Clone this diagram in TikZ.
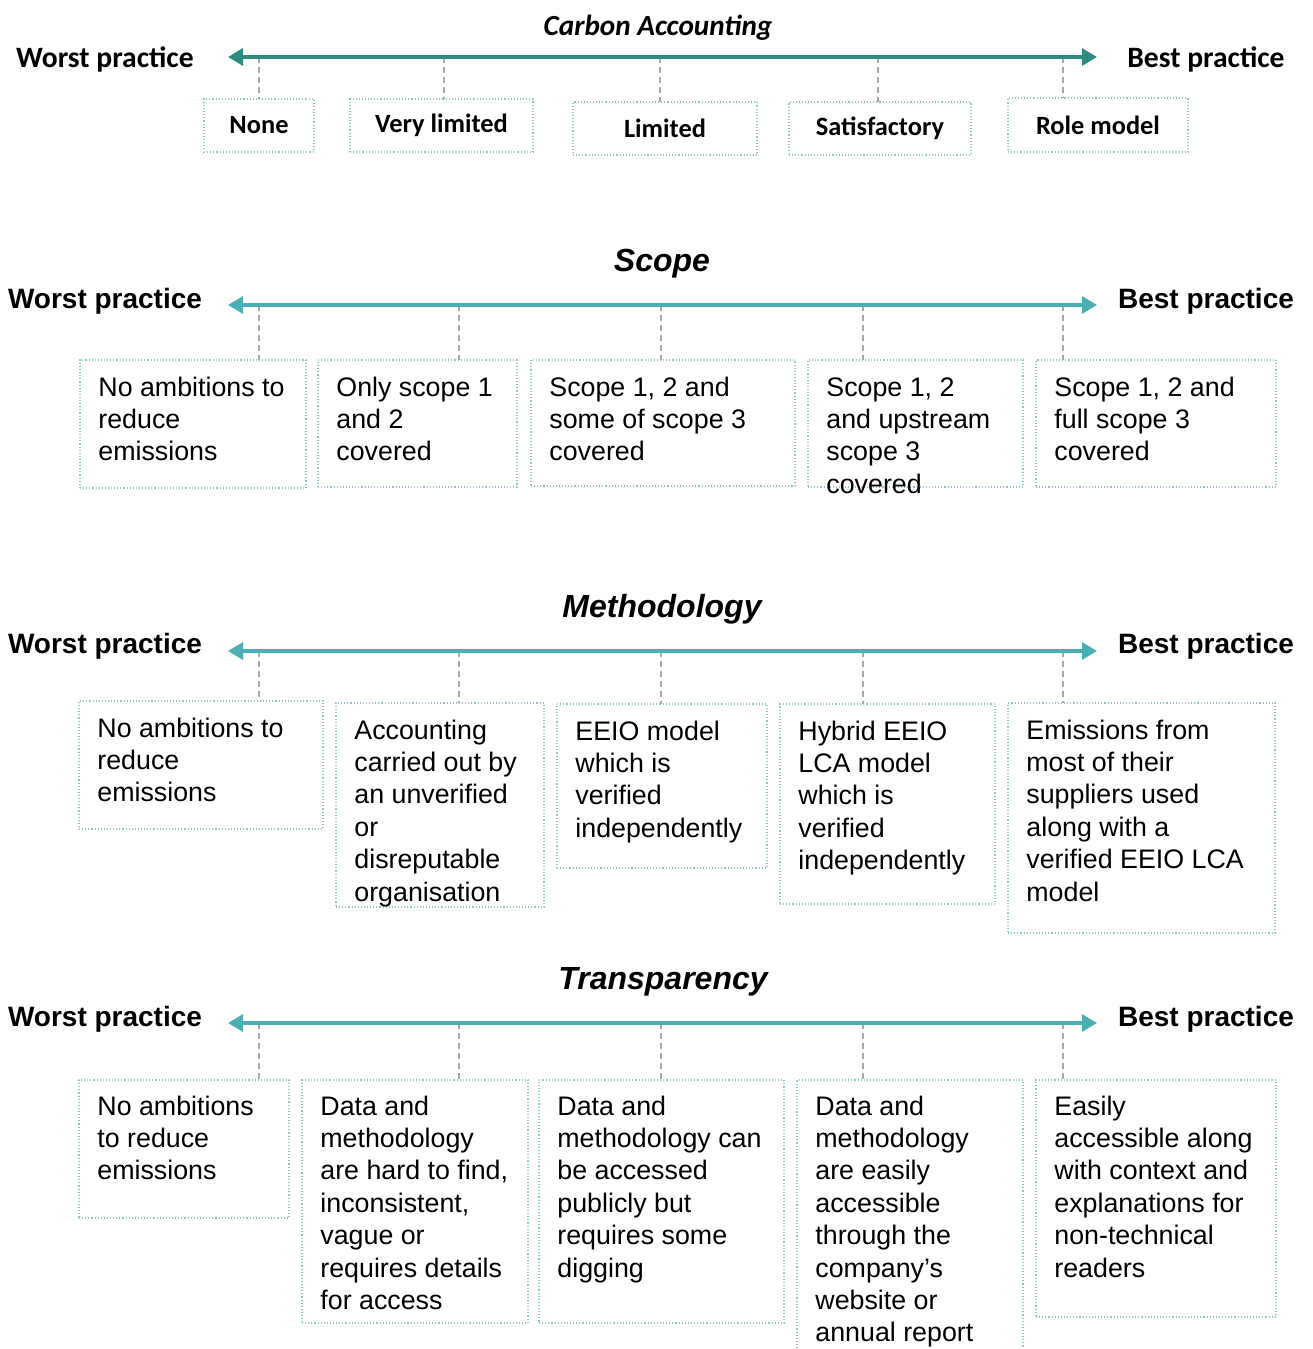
\documentclass[tikz,border=0pt]{standalone}
\usepackage{fontspec}
\setmainfont{Liberation Sans}
\newfontfamily\calibrifont{Carlito}
\usetikzlibrary{arrows.meta}
\definecolor{tealdark}{HTML}{2E8B80}
\definecolor{teallight}{HTML}{4AAFB4}
\definecolor{boxline}{HTML}{8CC6C6}
\definecolor{tickgray}{HTML}{A8A8A8}
\tikzset{
  scalebox/.style={draw=boxline,densely dotted,line width=0.55pt,inner sep=0pt,outer sep=0pt,anchor=north west},
  scaletext/.style={inner sep=0pt,anchor=north west,align=left,font=\fontsize{13.4}{16.2}\selectfont},
  levelbox/.style={scalebox,font=\calibrifont\bfseries\fontsize{13.2}{15}\selectfont},
  endcal/.style={font=\calibrifont\bfseries\fontsize{14.8}{16}\selectfont},
  endtext/.style={font=\bfseries\fontsize{14}{16}\selectfont},
  headcal/.style={font=\calibrifont\bfseries\itshape\fontsize{14.6}{16}\selectfont},
  heading/.style={font=\bfseries\itshape\fontsize{16}{18}\selectfont},
  tickline/.style={draw=tickgray,densely dashed,line width=0.55pt},
  scalearrow/.style={line width=1.6pt,{Triangle[length=7.5pt,width=8.5pt]}-{Triangle[length=7.5pt,width=8.5pt]}}
}
\begin{document}
\begin{tikzpicture}[x=0.5pt,y=-0.5pt]
\useasboundingbox (0,0) rectangle (1312,1349);
\pgfmathsetmacro{\xleft}{228}
\pgfmathsetmacro{\xright}{1097}

% Carbon Accounting
\node[headcal] (s1title) at (658,28) {Carbon Accounting};
\node[endcal] (s1worst) at (105,59) {Worst practice};
\node[endcal] (s1best) at (1206,59) {Best practice};
\coordinate (s1l) at (\xleft,57);
\coordinate (s1r) at (\xright,57);
\foreach \i/\xa/\ya/\xb/\yb/\txt/\tx in {1/204/99/314/152/None/259,2/350/99/533/152/Very limited/444,
  3/573/102/757/155/Limited/660,4/789/102/971/155/Satisfactory/878,5/1008/98/1188/152/Role model/1063} {
  \node[levelbox,minimum width=(\xb-\xa)*0.5pt,minimum height=(\yb-\ya)*0.5pt] (s1box\i) at (\xa,\ya) {\txt};
  \coordinate (s1tick\i) at (\tx,57);
  \draw[tickline] (s1tick\i) -- (s1tick\i |- s1box\i.north);
}
\draw[scalearrow,tealdark] (s1l) -- (s1r);

% Scope
\node[heading] (s2title) at (662,264) {Scope};
\node[endtext] (s2worst) at (105,301) {Worst practice};
\node[endtext] (s2best) at (1206,301) {Best practice};
\coordinate (s2l) at (\xleft,305);
\coordinate (s2r) at (\xright,305);
\foreach \i/\xa/\ya/\xb/\yb/\txt/\tx in {1/80/360/306/488/{No ambitions to\\reduce\\emissions}/259,
  2/318/360/517/487/{Only scope 1\\and 2\\covered}/459,
  3/531/360/795/486/{Scope 1, 2 and\\some of scope 3\\covered}/661,
  4/808/360/1023/487/{Scope 1, 2\\and upstream\\scope 3\\covered}/863,
  5/1036/360/1276/487/{Scope 1, 2 and\\full scope 3\\covered}/1063} {
  \node[scalebox,minimum width=(\xb-\xa)*0.5pt,minimum height=(\yb-\ya)*0.5pt] (s2box\i) at (\xa,\ya) {};
  \node[scaletext] (s2text\i) at ([shift={(18,13)}]s2box\i.north west) {\strut\txt};
  \coordinate (s2tick\i) at (\tx,305);
  \draw[tickline] (s2tick\i) -- (s2tick\i |- s2box\i.north);
}
\draw[scalearrow,teallight] (s2l) -- (s2r);

% Methodology
\node[heading] (s3title) at (662,609) {Methodology};
\node[endtext] (s3worst) at (105,646) {Worst practice};
\node[endtext] (s3best) at (1206,646) {Best practice};
\coordinate (s3l) at (\xleft,651);
\coordinate (s3r) at (\xright,651);
\foreach \i/\xa/\ya/\xb/\yb/\txt/\tx in {1/79/701/323/829/{No ambitions to\\reduce\\emissions}/259,
  2/336/703/544/907/{Accounting\\carried out by\\an unverified\\or\\disreputable\\organisation}/459,
  3/557/704/767/868/{EEIO model\\which is\\verified\\independently}/661,
  4/780/704/995/904/{Hybrid EEIO\\LCA model\\which is\\verified\\independently}/863,
  5/1008/703/1275/933/{Emissions from\\most of their\\suppliers used\\along with a\\verified EEIO LCA\\model}/1063} {
  \node[scalebox,minimum width=(\xb-\xa)*0.5pt,minimum height=(\yb-\ya)*0.5pt] (s3box\i) at (\xa,\ya) {};
  \node[scaletext] (s3text\i) at ([shift={(18,13)}]s3box\i.north west) {\strut\txt};
  \coordinate (s3tick\i) at (\tx,651);
  \draw[tickline] (s3tick\i) -- (s3tick\i |- s3box\i.north);
}
\draw[scalearrow,teallight] (s3l) -- (s3r);

% Transparency
\node[heading] (s4title) at (663,982) {Transparency};
\node[endtext] (s4worst) at (105,1019) {Worst practice};
\node[endtext] (s4best) at (1206,1019) {Best practice};
\coordinate (s4l) at (\xleft,1023);
\coordinate (s4r) at (\xright,1023);
\foreach \i/\xa/\ya/\xb/\yb/\txt/\tx in {1/79/1080/289/1218/{No ambitions\\to reduce\\emissions}/259,
  2/302/1080/528/1323/{Data and\\methodology\\are hard to find,\\inconsistent,\\vague or\\requires details\\for access}/459,
  3/539/1080/784/1323/{Data and\\methodology can\\be accessed\\publicly but\\requires some\\digging}/661,
  4/797/1080/1023/1353/{Data and\\methodology\\are easily\\accessible\\through the\\company’s\\website or\\annual report}/863,
  5/1036/1080/1276/1317/{Easily\\accessible along\\with context and\\explanations for\\non-technical\\readers}/1063} {
  \node[scalebox,minimum width=(\xb-\xa)*0.5pt,minimum height=(\yb-\ya)*0.5pt] (s4box\i) at (\xa,\ya) {};
  \node[scaletext] (s4text\i) at ([shift={(18,12)}]s4box\i.north west) {\strut\txt};
  \coordinate (s4tick\i) at (\tx,1023);
  \draw[tickline] (s4tick\i) -- (s4tick\i |- s4box\i.north);
}
\draw[scalearrow,teallight] (s4l) -- (s4r);
\end{tikzpicture}
\end{document}
